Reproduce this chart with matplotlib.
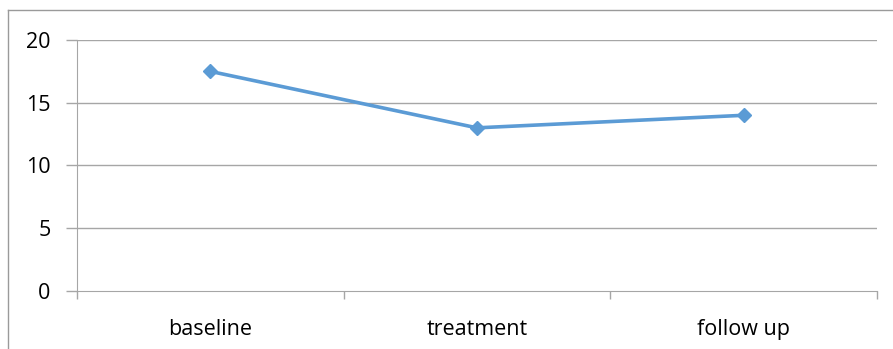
import matplotlib.pyplot as plt
from matplotlib.lines import Line2D

# scores per phase
phases = ['baseline', 'treatment', 'follow up']
scores = [17.5, 13, 14]
y_ticks = [0, 5, 10, 15, 20]

plt.rcParams['font.family'] = ['Open Sans', 'DejaVu Sans']

fig = plt.figure(figsize=(8.93, 3.49), dpi=100)
ax = fig.add_axes([0.0862, 0.1662, 0.8958, 0.7192])

x = list(range(len(phases)))
ax.plot(x, scores, color='#5B9BD5', linewidth=2.6, marker='D', markersize=7.5,
        markeredgecolor='#5B9BD5', zorder=3)

ax.set_xlim(-0.5, len(phases) - 0.5)
ax.set_ylim(0, 20)
ax.set_yticks(y_ticks)
ax.set_xticks(x)
ax.set_xticklabels(phases)

# category boundaries as tick marks
ax.set_xticks([i - 0.5 for i in range(len(phases) + 1)], minor=True)
ax.tick_params(axis='x', which='major', length=0, pad=20, labelsize=15.5)
ax.tick_params(axis='x', which='minor', length=6, color='#a6a6a6', width=1)
ax.tick_params(axis='y', length=8, color='#a6a6a6', width=1, pad=11, labelsize=15.5)

for yv in y_ticks[1:]:
    ax.axhline(yv, color='#a6a6a6', linewidth=1, zorder=1)

for side in ['top', 'right']:
    ax.spines[side].set_visible(False)
ax.spines['left'].set_color('#a6a6a6')
ax.spines['bottom'].set_color('#a6a6a6')

# outer chart frame
fig.add_artist(Line2D([8 / 893, 1], [1 - 10 / 349, 1 - 10 / 349],
                      transform=fig.transFigure, color='#9a9a9a', linewidth=1))
fig.add_artist(Line2D([8 / 893, 8 / 893], [0, 1 - 10 / 349],
                      transform=fig.transFigure, color='#9a9a9a', linewidth=1))

fig.savefig('out.png', dpi=100)
